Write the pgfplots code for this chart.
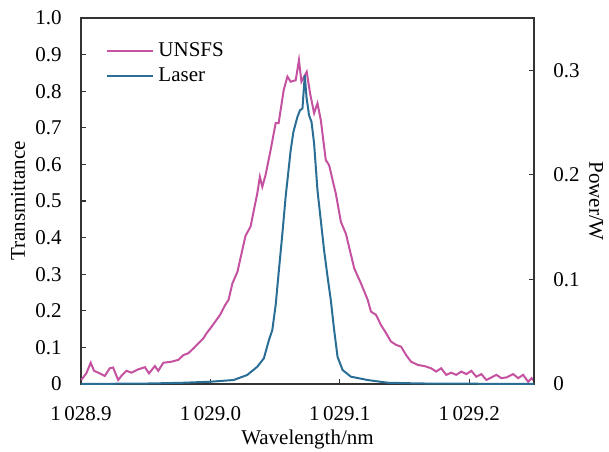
\documentclass[border=0pt]{standalone}
\usepackage{fontspec}
\setmainfont{Liberation Serif}
\usepackage{pgfplots}
\pgfplotsset{compat=1.18}
\definecolor{unsfs}{RGB}{196,82,160}
\definecolor{laser}{RGB}{42,110,150}

\begin{document}
\fontsize{10.5}{12.6}\selectfont
\begin{tikzpicture}
\pgfplotsset{
  every axis/.append style={
    scale only axis, width=226.5pt, height=183pt,
    xmin=1028.9, xmax=1029.25,
    tick align=inside, major tick length=2.5pt,
    axis line style={black!80, line width=0.6pt},
    tick style={black!80, line width=0.6pt},
    /pgf/number format/assume math mode=true,
  }
}
\begin{axis}[name=ax,
  ymin=0, ymax=1,
  xtick={1028.9,1029.0,1029.1,1029.2},
  xticklabels={1\,028.9,1\,029.0,1\,029.1,1\,029.2},
  ytick={0,0.1,0.2,0.3,0.4,0.5,0.6,0.7,0.8,0.9,1.0},
  yticklabels={0,0.1,0.2,0.3,0.4,0.5,0.6,0.7,0.8,0.9,1.0},
  xtick pos=left, ytick pos=left,
  xticklabel style={yshift=-7.5pt},
  yticklabel style={xshift=-6pt},
  xlabel={Wavelength/nm}, ylabel={Transmittance},
  xlabel style={at={(axis description cs:0.5,0)}, anchor=center, yshift=-27.5pt},
  ylabel style={at={(axis description cs:-0.139,0.5)}, anchor=center},
  legend style={at={(0.042,0.955)}, anchor=north west, draw=none, fill=none,
    font=\fontsize{10.5}{12.6}\selectfont, row sep=0pt},
  legend cell align=left,
  legend image code/.code={\draw[#1] (0pt,0pt) -- (23pt,0pt);},
]
% UNSFS transmittance
\addplot[unsfs, line width=1pt] coordinates {
(1028.9002,0.011) (1028.9041,0.029) (1028.9075,0.058) (1028.9101,0.036)
(1028.9145,0.029) (1028.9184,0.022) (1028.9222,0.043) (1028.9248,0.045)
(1028.9287,0.011) (1028.9312,0.022) (1028.9351,0.036) (1028.9390,0.031)
(1028.9442,0.040) (1028.9494,0.046) (1028.9525,0.029) (1028.9571,0.049)
(1028.9597,0.036) (1028.9636,0.058) (1028.9700,0.061) (1028.9752,0.066)
(1028.9791,0.079) (1028.9829,0.084) (1028.9868,0.097) (1028.9907,0.111)
(1028.9946,0.125) (1028.9971,0.139) (1029.0010,0.157) (1029.0036,0.170)
(1029.0075,0.189) (1029.0114,0.216) (1029.0140,0.230) (1029.0170,0.275)
(1029.0209,0.307) (1029.0271,0.405) (1029.0310,0.430) (1029.0362,0.521)
(1029.0382,0.566) (1029.0401,0.539) (1029.0426,0.571) (1029.0465,0.639)
(1029.0504,0.713) (1029.0527,0.713) (1029.0566,0.803) (1029.0595,0.840)
(1029.0620,0.826) (1029.0659,0.830) (1029.0684,0.885) (1029.0703,0.826)
(1029.0744,0.853) (1029.0770,0.794) (1029.0801,0.740) (1029.0827,0.767)
(1029.0853,0.721) (1029.0891,0.612) (1029.0917,0.598) (1029.0956,0.539)
(1029.0969,0.520) (1029.1008,0.443) (1029.1047,0.410) (1029.1111,0.316)
(1029.1163,0.275) (1029.1215,0.230) (1029.1240,0.198) (1029.1279,0.189)
(1029.1318,0.161) (1029.1357,0.139) (1029.1395,0.116) (1029.1434,0.107)
(1029.1473,0.102) (1029.1512,0.079) (1029.1550,0.061) (1029.1602,0.052)
(1029.1653,0.049) (1029.1705,0.043) (1029.1744,0.034) (1029.1783,0.043)
(1029.1822,0.025) (1029.1860,0.031) (1029.1899,0.025) (1029.1938,0.034)
(1029.1977,0.027) (1029.2016,0.036) (1029.2054,0.020) (1029.2093,0.027)
(1029.2132,0.011) (1029.2171,0.018) (1029.2209,0.025) (1029.2248,0.016)
(1029.2287,0.018) (1029.2339,0.027) (1029.2378,0.016) (1029.2416,0.025)
(1029.2455,0.006) (1029.2481,0.016) (1029.2506,0.006)
};
\addlegendentry{UNSFS}
\addlegendimage{laser, line width=1pt}
\addlegendentry{Laser}
\end{axis}

\begin{axis}[
  ymin=0, ymax=0.35,
  axis x line=none, axis y line*=right,
  ytick={0,0.1,0.2,0.3}, yticklabels={0,0.1,0.2,0.3},
  yticklabel style={xshift=6pt},
  ylabel={Power/W},
  ylabel style={at={(axis description cs:1.137,0.5)}, anchor=center, rotate=180},
]
% laser power
\addplot[laser, line width=1pt] coordinates {
(1028.9000,0) (1028.9535,0.0005) (1028.9791,0.0012) (1029.0000,0.0022)
(1029.0178,0.0038) (1029.0284,0.0086) (1029.0362,0.0165) (1029.0413,0.0246)
(1029.0452,0.0420) (1029.0478,0.0516) (1029.0504,0.0755) (1029.0529,0.1089)
(1029.0556,0.1440) (1029.0581,0.1789) (1029.0620,0.2236) (1029.0641,0.2410)
(1029.0672,0.2554) (1029.0692,0.2618) (1029.0711,0.2634) (1029.0729,0.2952)
(1029.0742,0.2745) (1029.0762,0.2570) (1029.0781,0.2506) (1029.0801,0.2300)
(1029.0827,0.1853) (1029.0878,0.1280) (1029.0905,0.1025) (1029.0930,0.0803)
(1029.0956,0.0516) (1029.0982,0.0261) (1029.1021,0.0134) (1029.1085,0.0070)
(1029.1215,0.0038) (1029.1370,0.0012) (1029.1628,0.0005) (1029.2500,0)
};
\end{axis}
\pgfresetboundingbox
\path (ax.south west) ++(-40.5pt,-33.5pt) rectangle ([shift={(264pt,192pt)}]ax.south west);
\end{tikzpicture}
\end{document}
